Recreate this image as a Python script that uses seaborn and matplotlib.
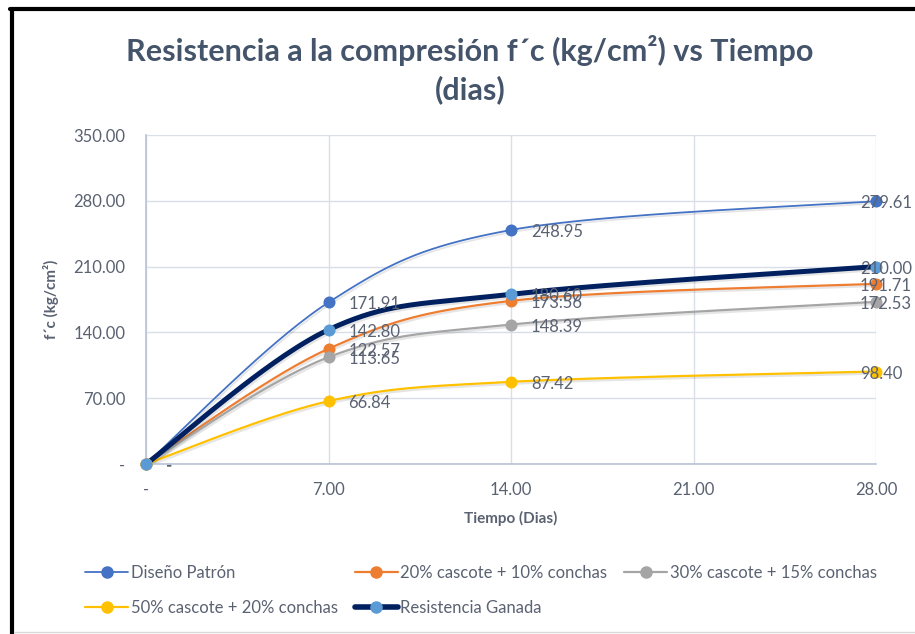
import numpy as np
import pandas as pd
import matplotlib
matplotlib.use("Agg")
import matplotlib.pyplot as plt
import matplotlib.patheffects as pe
from matplotlib.lines import Line2D
import seaborn as sns

# Curing age (days) and compressive strength f'c (kg/cm²) per mix
dias = [0, 7, 14, 28]
patron = [0.0, 171.91, 248.95, 279.61]
mezcla_20_10 = [0.0, 122.57, 173.56, 191.71]
mezcla_30_15 = [0.0, 113.65, 148.39, 172.53]
mezcla_50_20 = [0.0, 66.84, 87.42, 98.40]
ganada = [0.0, 142.80, 180.60, 210.00]

series_names = ["Diseño Patrón", "20% cascote + 10% conchas",
                "30% cascote + 15% conchas", "50% cascote + 20% conchas",
                "Resistencia Ganada"]
series_values = [patron, mezcla_20_10, mezcla_30_15, mezcla_50_20, ganada]

x_ticks = [0, 7, 14, 21, 28]
y_ticks = [0, 70, 140, 210, 280, 350]

line_colors = ["#4472C4", "#ED7D31", "#A5A5A5", "#FFC000", "#002060"]
marker_colors = ["#4472C4", "#ED7D31", "#A5A5A5", "#FFC000", "#5B9BD5"]
line_widths = [1.3, 1.6, 1.6, 1.6, 3.6]

TEXT = "#5A6272"
TITLE = "#44546A"
GRID = "#D9DEE8"
AXIS = "#B8C3D6"

sns.set_theme(style="white")
plt.rcParams["font.family"] = ["Lato", "DejaVu Sans"]


def smooth_curve(xs, ys, n=60):
    """Bezier smoothing through the points (Catmull-Rom control points)."""
    P = np.column_stack([xs, ys]).astype(float)
    out = []
    for i in range(len(P) - 1):
        p0 = P[max(i - 1, 0)]
        p1 = P[i]
        p2 = P[i + 1]
        p3 = P[min(i + 2, len(P) - 1)]
        c1 = p1 + (p2 - p0) / 6.0
        c2 = p2 - (p3 - p1) / 6.0
        t = np.linspace(0, 1, n)[:, None]
        b = ((1 - t) ** 3) * p1 + 3 * ((1 - t) ** 2) * t * c1 \
            + 3 * (1 - t) * t ** 2 * c2 + t ** 3 * p2
        out.append(b if i == 0 else b[1:])
    c = np.vstack(out)
    return c[:, 0], c[:, 1]


W, H = 915, 634
fig = plt.figure(figsize=(W / 100, H / 100), dpi=100)
fig.patch.set_facecolor("white")

ax = fig.add_axes([146 / W, 1 - 464 / H, (876 - 146) / W, (464 - 135) / H])
ax.set_facecolor("white")

shadow = [pe.SimpleLineShadow(offset=(1, -1.5), alpha=0.10, shadow_color="#000000"),
          pe.Normal()]

for name, vals, lc, mc, lw in zip(series_names, series_values,
                                   line_colors, marker_colors, line_widths):
    sx, sy = smooth_curve(dias, vals)
    curve = pd.DataFrame({"dias": sx, "fc": sy})
    sns.lineplot(data=curve, x="dias", y="fc", ax=ax, color=lc, lw=lw,
                 sort=False, estimator=None, path_effects=shadow,
                 solid_capstyle="round")
    pts = pd.DataFrame({"dias": dias, "fc": vals})
    sns.scatterplot(data=pts, x="dias", y="fc", ax=ax, color=mc, s=75,
                    edgecolor=mc, linewidth=0, clip_on=False, zorder=5)
    for xv, yv in zip(dias, vals):
        label = "-" if yv == 0 else f"{yv:.2f}"
        dx = -16 if xv == dias[-1] else 20
        ax.annotate(label, (xv, yv), xytext=(dx, -2), textcoords="offset pixels",
                    ha="left", va="center", fontsize=12, color=TEXT,
                    annotation_clip=False, zorder=6)

ax.set_xlim(0, 28)
ax.set_ylim(0, 350)
ax.set_xticks(x_ticks)
ax.set_yticks(y_ticks)
ax.set_xticklabels(["-" if v == 0 else f"{v:.2f}" for v in x_ticks])
ax.set_yticklabels(["-" if v == 0 else f"{v:.2f}" for v in y_ticks])
ax.tick_params(axis="both", length=0, labelsize=12, labelcolor=TEXT)
ax.tick_params(axis="x", pad=13)
ax.tick_params(axis="y", pad=15)
ax.grid(True, color=GRID, lw=1)
ax.set_axisbelow(True)
for side in ["top", "right"]:
    ax.spines[side].set_visible(False)
for side in ["left", "bottom"]:
    ax.spines[side].set_color(AXIS)
    ax.spines[side].set_linewidth(1.2)

ax.set_xlabel("Tiempo (Dias)", fontsize=11, fontweight="bold", color=TEXT,
              labelpad=9)
ax.set_ylabel("f´c (kg/cm²)", fontsize=11, fontweight="bold", color=TEXT,
              labelpad=10)

fig.text(470 / W, 1 - 51 / H, "Resistencia a la compresión f´c (kg/cm²) vs Tiempo",
         ha="center", va="center", fontsize=22, fontweight="bold", color=TITLE)
fig.text(470 / W, 1 - 90 / H, "(dias)", ha="center", va="center",
         fontsize=22, fontweight="bold", color=TITLE)

handles = [Line2D([], [], color=lc, lw=lw if lw < 3 else 4, marker="o",
                  markersize=8, markerfacecolor=mc, markeredgecolor=mc)
           for lc, mc, lw in zip(line_colors, marker_colors, line_widths)]
order = [0, 3, 1, 4, 2]
fig.legend([handles[i] for i in order], [series_names[i] for i in order],
           ncol=3, loc="upper left", bbox_to_anchor=(70 / W, 1 - 550 / H),
           frameon=False, fontsize=12, labelcolor=TEXT, handlelength=2.6,
           handletextpad=0.15, columnspacing=1.0, labelspacing=1.15)

# chart frame
fig.add_artist(Line2D([12 / W, 12 / W], [0, 1 - 9 / H], color="black", lw=3,
                      transform=fig.transFigure))
fig.add_artist(Line2D([10 / W, 1], [1 - 9 / H, 1 - 9 / H], color="black", lw=3,
                      transform=fig.transFigure))
fig.add_artist(Line2D([14 / W, 1], [1 - 632 / H, 1 - 632 / H], color="#D9D9D9",
                      lw=1, transform=fig.transFigure))

fig.savefig("out.png", dpi=100, facecolor="white")
